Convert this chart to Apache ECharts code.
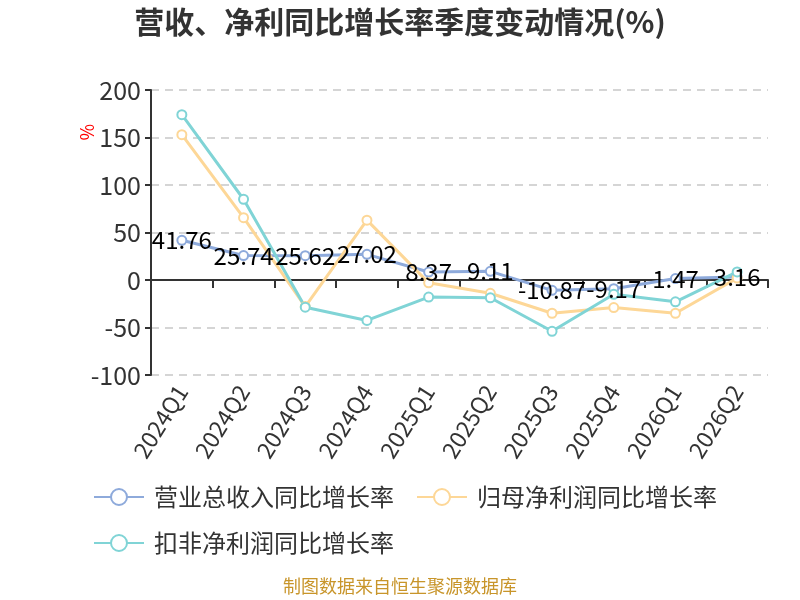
<!DOCTYPE html>
<html>
<head>
<meta charset="utf-8">
<script src="https://cdn.jsdelivr.net/npm/echarts@6/dist/echarts.min.js"></script>
<style>
    html, body { margin: 0; padding: 0; background: #fff; }
    #chart { width: 800px; height: 600px; }
</style>
</head>
<body>
<div id="chart"></div>
<script>
// 季度
const quarters = ['2024Q1', '2024Q2', '2024Q3', '2024Q4', '2025Q1', '2025Q2', '2025Q3', '2025Q4', '2026Q1', '2026Q2'];
// 营业总收入同比增长率
const revenueYoy = [41.76, 25.74, 25.62, 27.02, 8.37, 9.11, -10.87, -9.17, 1.47, 3.16];
// 归母净利润同比增长率
const netProfitYoy = [153, 65.6, -28, 63, -3, -14, -35, -29, -35, 2];
// 扣非净利润同比增长率
const deductedYoy = [174, 85, -28.6, -42.6, -18, -18.7, -54, -15, -23, 8.5];
const yTicks = { min: -100, max: 200, interval: 50 };

const colors = ['#8eaadb', '#fdd797', '#80d4d6'];
const font = '"Noto Sans CJK SC", "Noto Sans", sans-serif';

function makeSeries(name, data, color, showLabel) {
    return {
        name,
        type: 'line',
        data,
        symbol: 'emptyCircle',
        symbolSize: 9,
        lineStyle: { width: 3, color },
        itemStyle: { color, borderWidth: 2 },
        label: {
            show: showLabel,
            position: 'inside',
            color: '#000',
            fontSize: 24,
            fontFamily: font
        }
    };
}

const chart = echarts.init(document.getElementById('chart'), null, { renderer: 'canvas' });
chart.setOption({
    animation: false,
    color: colors,
    title: {
        text: '营收、净利同比增长率季度变动情况(%)',
        left: 'center',
        top: 2,
        textStyle: { fontSize: 30, fontWeight: 'bold', color: '#333', fontFamily: font }
    },
    grid: { left: 151, right: 32, top: 90, bottom: 225, containLabel: false },
    legend: {
        left: 88,
        top: 480,
        width: 700,
        itemWidth: 50,
        itemHeight: 20,
        itemGap: 22,
        textStyle: { fontSize: 24, lineHeight: 24, color: '#333', fontFamily: font, padding: [0, 0, 0, 5] },
        data: ['营业总收入同比增长率', '归母净利润同比增长率', '扣非净利润同比增长率']
    },
    xAxis: {
        type: 'category',
        data: quarters,
        axisLine: { onZero: true, lineStyle: { color: '#333', width: 2 } },
        axisTick: { show: true, length: 8, lineStyle: { width: 2 } },
        axisLabel: {
            interval: 0,
            rotate: 58,
            fontSize: 23,
            color: '#333',
            fontFamily: font,
            margin: 12
        }
    },
    yAxis: {
        type: 'value',
        min: yTicks.min,
        max: yTicks.max,
        interval: yTicks.interval,
        axisLine: { show: true, lineStyle: { color: '#333', width: 2 } },
        axisTick: { show: true, length: 6, lineStyle: { width: 2 } },
        axisLabel: { fontSize: 25, color: '#333', fontFamily: font, margin: 10 },
        splitLine: { lineStyle: { type: [8, 6], color: '#c8c8c8', width: 1.5 } }
    },
    graphic: [
        {
            type: 'text',
            left: 78,
            top: 124,
            rotation: Math.PI / 2,
            style: { text: '%', fill: '#ff0000', fontSize: 18, fontFamily: font }
        },
        {
            type: 'text',
            left: 'center',
            top: 577,
            style: { text: '制图数据来自恒生聚源数据库', fill: '#c8952a', fontSize: 18, fontFamily: font }
        }
    ],
    series: [
        makeSeries('营业总收入同比增长率', revenueYoy, colors[0], true),
        makeSeries('归母净利润同比增长率', netProfitYoy, colors[1], false),
        makeSeries('扣非净利润同比增长率', deductedYoy, colors[2], false)
    ]
});
</script>
</body>
</html>
